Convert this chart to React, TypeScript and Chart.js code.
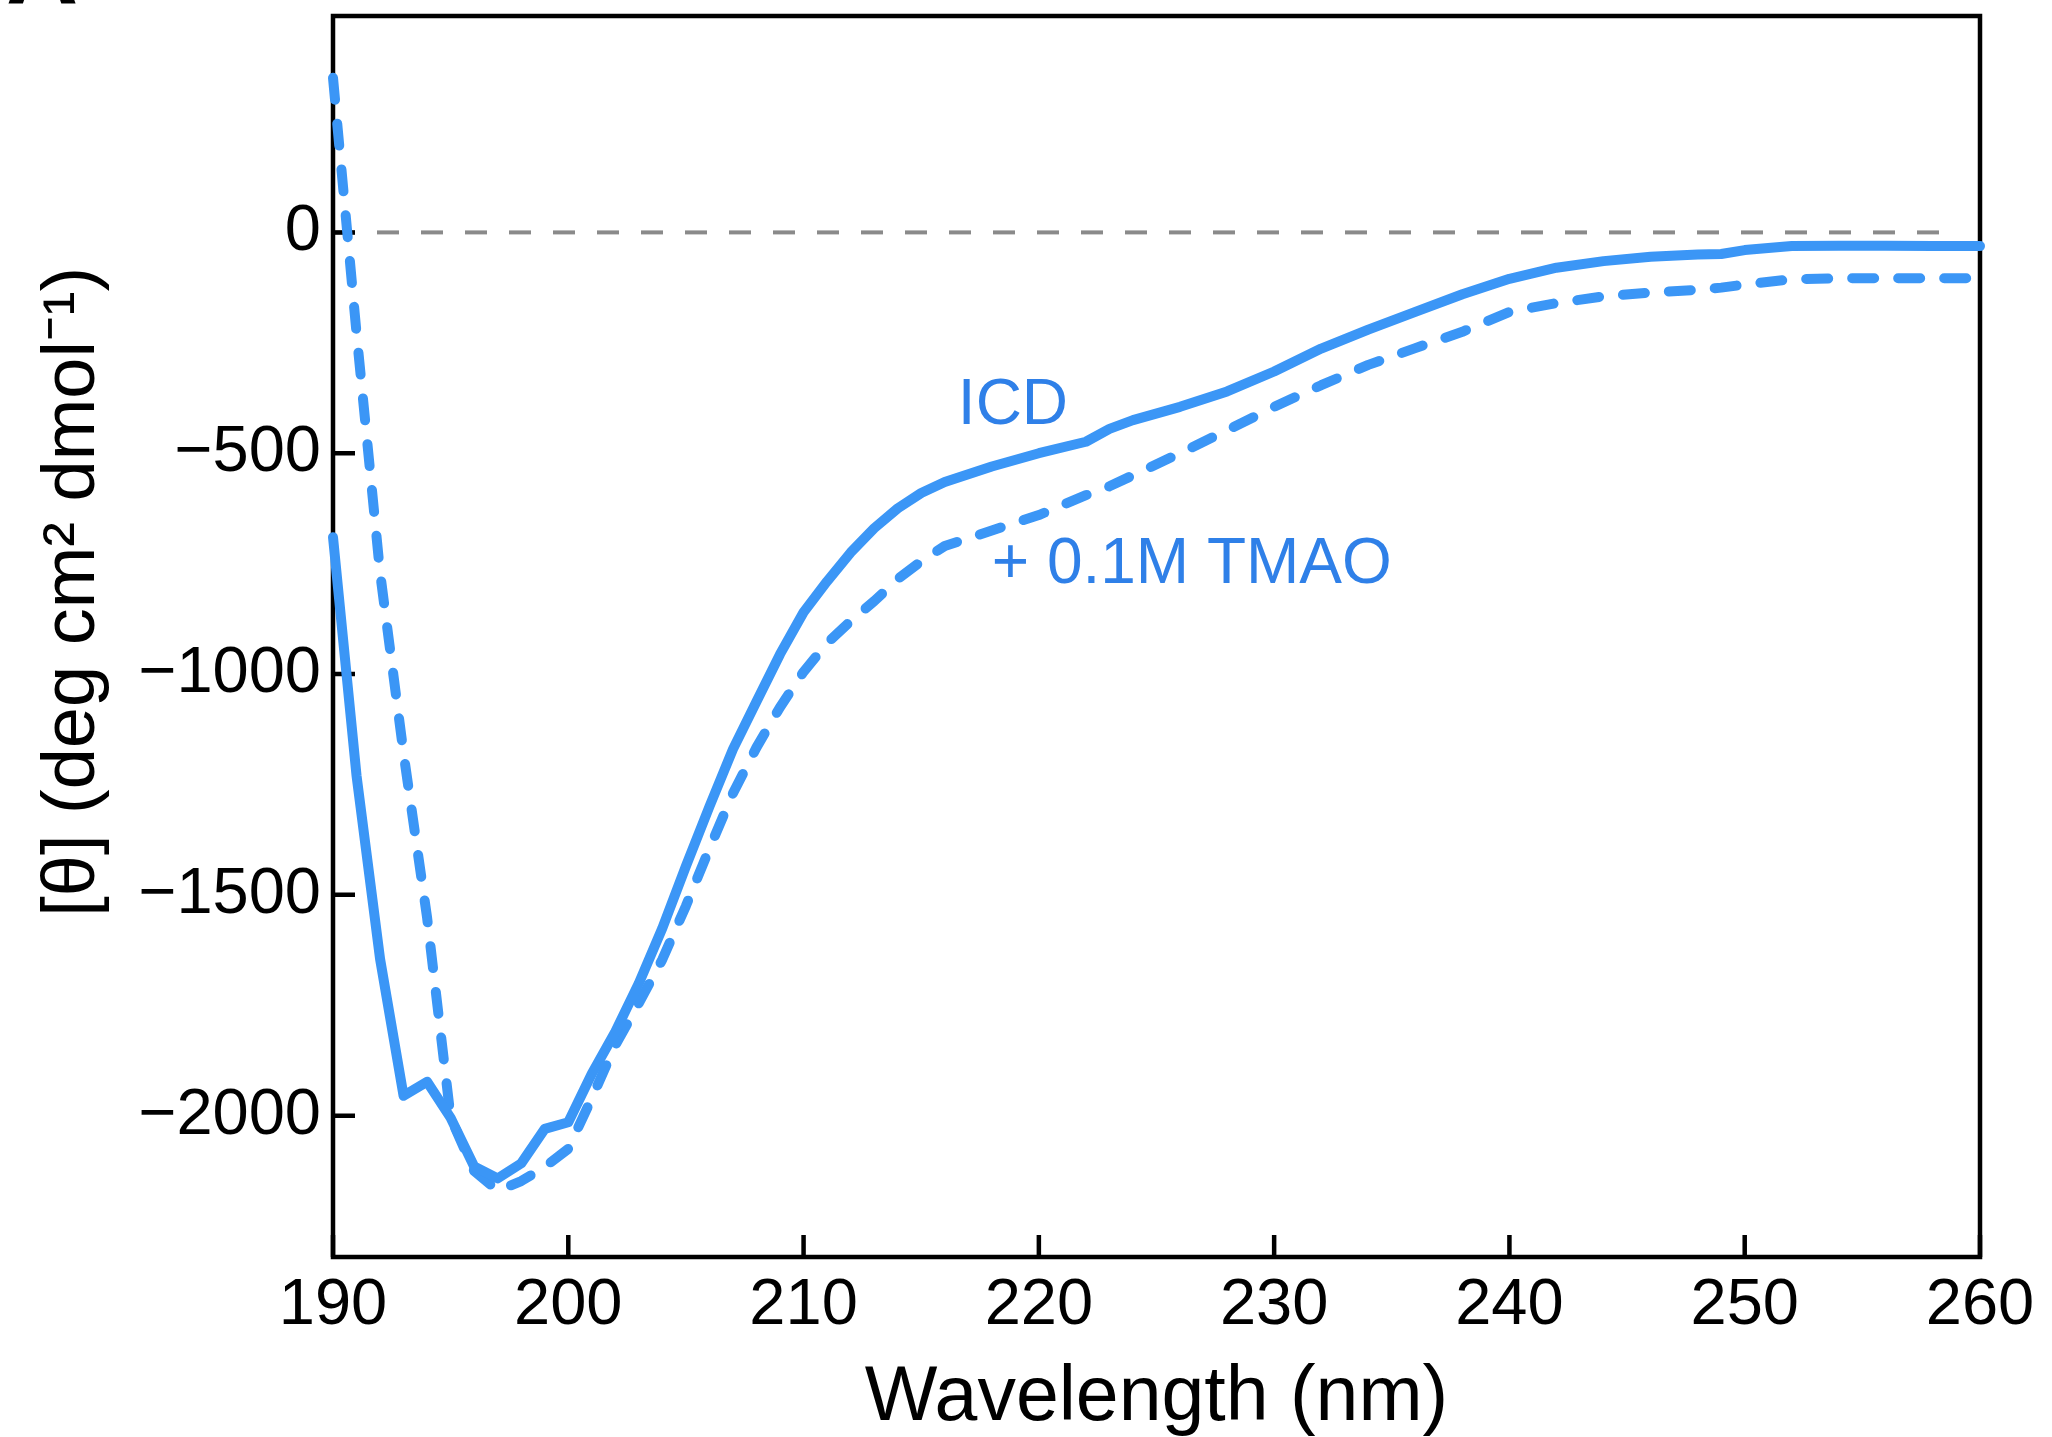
import React, { useEffect, useRef } from 'react';
import { Chart, registerables } from 'chart.js';

Chart.register(...registerables);

// ---- Data ----
const wavelengths = [
  190, 191, 192, 193, 194, 195, 196, 197, 198, 199, 200, 201, 202, 203, 204, 205,
  206, 207, 208, 209, 210, 211, 212, 213, 214, 215, 216, 218, 220, 222, 223, 224,
  226, 228, 230, 232, 234, 236, 238, 240, 242, 244, 246, 248, 249, 250, 252, 254,
  256, 258, 260,
];

const icdValues = [
  -690, -1230, -1645, -1955, -1923, -2005, -2115, -2142, -2108, -2030, -2015, -1905,
  -1810, -1700, -1575, -1435, -1300, -1170, -1062, -955, -860, -790, -725, -670,
  -625, -590, -565, -530, -500, -474, -445, -425, -395, -360, -315, -263, -220,
  -180, -140, -105, -80, -65, -55, -50, -49, -40, -31, -30, -30, -31, -31,
];

const tmaoValues = [
  350, -228, -770, -1180, -1552, -2005, -2125, -2170, -2148, -2116, -2075, -1960,
  -1840, -1745, -1646, -1525, -1395, -1270, -1166, -1075, -995, -930, -880, -835,
  -785, -745, -710, -675, -640, -595, -575, -550, -500, -448, -395, -346, -300,
  -262, -225, -180, -160, -145, -136, -130, -125, -118, -106, -104, -104, -104, -104,
];

const xTicks = [190, 200, 210, 220, 230, 240, 250, 260];
const yTicks = [-2000, -1500, -1000, -500, 0];
const xRange = [190, 260];
const yRange = [-2320, 490];

const seriesNames = ['ICD', '+ 0.1M TMAO'];
// label anchor positions in data coordinates [wavelength, value]
const icdLabelPos = [218.9, -394];
const tmaoLabelPos = [226.5, -754];

const panelLabel = 'A';
const xTitle = 'Wavelength (nm)';
const yTitle = '[θ] (deg cm² dmol⁻¹)';

const FONT = "'Liberation Sans', Arial, Helvetica, sans-serif";
const LINE_COLOR = '#3b96f6';
const TEXT_COLOR = '#2f80e8';

const framePlugin = {
  id: 'framePlugin',
  beforeDatasetsDraw(chart: any) {
    const { ctx, chartArea } = chart;
    const xs = chart.scales.x;
    const ys = chart.scales.y;
    const { left, right, top, bottom } = chartArea;
    ctx.save();
    // zero reference line
    const y0 = ys.getPixelForValue(0);
    ctx.strokeStyle = '#8a8a8a';
    ctx.lineWidth = 4;
    ctx.setLineDash([22, 22]);
    ctx.beginPath();
    ctx.moveTo(left, y0);
    ctx.lineTo(right - 20, y0);
    ctx.stroke();
    ctx.setLineDash([]);
    // frame
    ctx.strokeStyle = '#000';
    ctx.lineWidth = 4.5;
    ctx.strokeRect(left, top, right - left, bottom - top);
    // inward ticks
    ctx.beginPath();
    yTicks.forEach((v) => {
      const py = ys.getPixelForValue(v);
      ctx.moveTo(left, py);
      ctx.lineTo(left + 22, py);
    });
    xTicks.forEach((v) => {
      const px = xs.getPixelForValue(v);
      ctx.moveTo(px, bottom);
      ctx.lineTo(px, bottom - 22);
    });
    ctx.stroke();
    ctx.restore();
  },
  afterDraw(chart: any) {
    const { ctx, chartArea } = chart;
    const xs = chart.scales.x;
    const ys = chart.scales.y;
    ctx.save();
    // series labels
    ctx.fillStyle = TEXT_COLOR;
    ctx.font = `64px ${FONT}`;
    ctx.textAlign = 'center';
    ctx.textBaseline = 'middle';
    ctx.fillText(seriesNames[0], xs.getPixelForValue(icdLabelPos[0]), ys.getPixelForValue(icdLabelPos[1]));
    ctx.fillText(seriesNames[1], xs.getPixelForValue(tmaoLabelPos[0]), ys.getPixelForValue(tmaoLabelPos[1]));
    // panel label (cut off at the top edge, as in the source figure)
    ctx.fillStyle = '#000';
    ctx.font = `bold 100px ${FONT}`;
    ctx.textAlign = 'left';
    ctx.textBaseline = 'alphabetic';
    ctx.fillText(panelLabel, 6, 4);
    // y-axis title
    ctx.textAlign = 'center';
    ctx.textBaseline = 'middle';
    ctx.font = `74px ${FONT}`;
    const cy = chartArea.top + (chartArea.bottom - chartArea.top) * 0.464;
    ctx.translate(74, cy);
    ctx.rotate(-Math.PI / 2);
    ctx.fillText(yTitle, 0, 0);
    ctx.restore();
  },
};

export default function App() {
  const canvasRef = useRef<HTMLCanvasElement | null>(null);

  useEffect(() => {
    document.body.style.margin = '0';
    const canvas = canvasRef.current;
    if (!canvas) return;
    const chart = new Chart(canvas, {
      type: 'line',
      data: {
        datasets: [
          {
            label: seriesNames[0],
            data: wavelengths.map((x, i) => ({ x, y: icdValues[i] })),
            borderColor: LINE_COLOR,
            backgroundColor: LINE_COLOR,
            borderWidth: 10,
            pointRadius: 0,
            tension: 0,
            fill: false,
            borderJoinStyle: 'round',
            borderCapStyle: 'round',
            clip: false,
          } as any,
          {
            label: seriesNames[1],
            data: wavelengths.map((x, i) => ({ x, y: tmaoValues[i] })),
            borderColor: LINE_COLOR,
            backgroundColor: LINE_COLOR,
            borderWidth: 10,
            borderDash: [22, 24],
            borderCapStyle: 'round',
            borderJoinStyle: 'round',
            pointRadius: 0,
            tension: 0,
            fill: false,
            clip: false,
          } as any,
        ],
      },
      options: {
        animation: false,
        responsive: false,
        devicePixelRatio: 1,
        layout: { padding: { top: 16, right: 72, left: 0, bottom: 0 } },
        plugins: {
          legend: { display: false },
          tooltip: { enabled: false },
        },
        scales: {
          x: {
            type: 'linear',
            min: xRange[0],
            max: xRange[1],
            afterBuildTicks: (s: any) => {
              s.ticks = xTicks.map((v) => ({ value: v }));
            },
            afterFit: (s: any) => {
              s.height = 180;
              s.paddingLeft = 0;
              s.paddingRight = 0;
            },
            grid: { display: false, drawTicks: false },
            border: { display: false },
            ticks: {
              color: '#000',
              font: { family: FONT, size: 65 },
              padding: 10,
              maxRotation: 0,
              autoSkip: false,
            },
            title: {
              display: true,
              text: xTitle,
              color: '#000',
              font: { family: FONT, size: 77, lineHeight: 1.0 },
              padding: { top: 0, bottom: 0 },
            },
          },
          y: {
            type: 'linear',
            min: yRange[0],
            max: yRange[1],
            afterBuildTicks: (s: any) => {
              s.ticks = yTicks.map((v) => ({ value: v }));
            },
            afterFit: (s: any) => {
              s.width = 333;
              s.paddingTop = 0;
              s.paddingBottom = 0;
            },
            grid: { display: false, drawTicks: false },
            border: { display: false },
            ticks: {
              color: '#000',
              font: { family: FONT, size: 65 },
              padding: 12,
              autoSkip: false,
              callback: (v: any) => (Number(v) < 0 ? '\u2212' + Math.abs(Number(v)) : String(v)),
            },
          },
        },
      },
      plugins: [framePlugin],
    } as any);
    return () => chart.destroy();
  }, []);

  return (
    <div style={{ width: 2052, height: 1437, background: '#fff' }}>
      <canvas ref={canvasRef} width={2052} height={1437} style={{ display: 'block' }} />
    </div>
  );
}
